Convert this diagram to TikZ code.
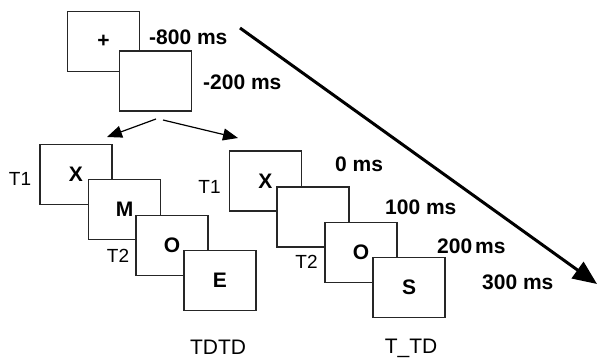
\documentclass[tikz,border=0pt]{standalone}
\usepackage{fontspec}
\setmainfont{Liberation Sans}
\usetikzlibrary{arrows.meta}
\begin{document}
\begin{tikzpicture}[x=1pt,y=-1pt,
  scr/.style={draw=black!85,line width=1.2pt,fill=white,minimum width=72pt,minimum height=60pt,inner sep=0pt,font=\fontsize{21}{24}\selectfont\bfseries},
  ms/.style={anchor=west,inner sep=0pt,font=\fontsize{21}{24}\selectfont\bfseries},
  tl/.style={inner sep=0pt,font=\fontsize{19}{22}\selectfont},
  cond/.style={inner sep=0pt,font=\fontsize{21}{24}\selectfont},
  sarr/.style={line width=1.2pt,-{Triangle[length=15pt,width=12pt]}},
  barr/.style={line width=3pt,-{Triangle[length=24pt,width=20pt]}}]
\useasboundingbox (0,0) rectangle (597,361);
% fixation and blank
\node[scr] (f1) at (103.5,41.5) {+};
\node[scr] (f2) at (155.5,81) {};
\node[ms] (l800) at (149,37) {-800 ms};
\node[ms] (l200n) at (203,82) {-200 ms};
% split arrows
\coordinate (sL) at (156,119);
\coordinate (sR) at (163,120);
\coordinate (eL) at (107,137);
\coordinate (eR) at (238,138);
\draw[sarr] (sL) -- (eL);
\draw[sarr] (sR) -- (eR);
% TDTD
\node[scr] (a1) at (76,174.5) {X};
\node[scr] (a2) at (124.5,209.5) {M};
\node[scr] (a3) at (172,245.5) {O};
\node[scr] (a4) at (220,280.5) {E};
\node[tl] (t1a) at (20,179) {T1};
\node[tl] (t2a) at (118,256) {T2};
\node[cond] (ca) at (218,347) {TDTD};
% T_TD
\node[scr] (b1) at (265.5,181) {X};
\node[scr] (b2) at (313,217) {};
\node[scr] (b3) at (361,252.5) {O};
\node[scr] (b4) at (409,287.5) {S};
\node[tl] (t1b) at (209.5,187) {T1};
\node[tl] (t2b) at (306.5,262) {T2};
\node[cond] (cb) at (411,348) {T\_TD};
% times
\node[ms] (l0) at (335,164) {0 ms};
\node[ms] (l100) at (385,207) {100 ms};
\node[ms] (l200) at (437,246) {200\hspace{3pt}ms};
\node[ms] (l300) at (482,282) {300 ms};
% time arrow
\coordinate (ts) at (240,28);
\coordinate (te) at (597,284);
\draw[barr] (ts) -- (te);
\end{tikzpicture}
\end{document}
